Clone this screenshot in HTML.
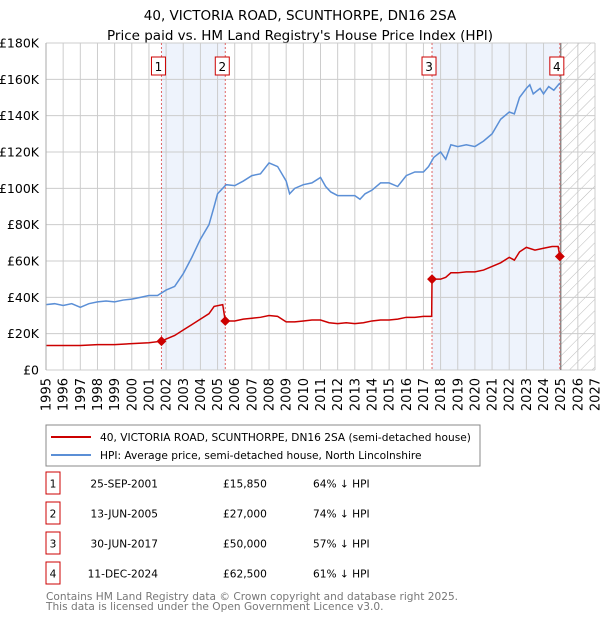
<!DOCTYPE html>
<html><head><meta charset="utf-8"><style>
body{margin:0;background:#fff;font-family:"DejaVu Sans","Liberation Sans",sans-serif;}
svg text{font-family:"DejaVu Sans","Liberation Sans",sans-serif;}
</style></head><body>
<svg id="c" width="600" height="620" xmlns="http://www.w3.org/2000/svg">
<defs><pattern id="hatch" width="8" height="8" patternUnits="userSpaceOnUse" patternTransform="rotate(45)"><line x1="0" y1="0" x2="0" y2="8" stroke="#bbb" stroke-width="1"/></pattern></defs>
<text x="300" y="20" text-anchor="middle" font-size="13.5">40, VICTORIA ROAD, SCUNTHORPE, DN16 2SA</text>
<text x="300" y="40" text-anchor="middle" font-size="13.5">Price paid vs. HM Land Registry's House Price Index (HPI)</text>
<g id="plot"></g>
<g>
<rect x="46" y="425" width="434" height="41" fill="#fff" stroke="#888"/>
<line x1="51" y1="437" x2="91" y2="437" stroke="#cc0000" stroke-width="2"/>
<text x="100" y="441" font-size="10.6">40, VICTORIA ROAD, SCUNTHORPE, DN16 2SA (semi-detached house)</text>
<line x1="51" y1="455" x2="91" y2="455" stroke="#5b8fd6" stroke-width="2"/>
<text x="100" y="459" font-size="10.6">HPI: Average price, semi-detached house, North Lincolnshire</text>
</g>
<g id="table"></g>
<text x="46" y="600" font-size="10.6" fill="#777">Contains HM Land Registry data © Crown copyright and database right 2025.</text>
<text x="46" y="610" font-size="10.6" fill="#777">This data is licensed under the Open Government Licence v3.0.</text>
</svg>
<script>
const hpiT=[1995,1995.5,1996,1996.5,1997,1997.5,1998,1998.5,1999,1999.5,2000,2000.5,2001,2001.5,2002,2002.5,2003,2003.5,2004,2004.5,2004.8,2005,2005.5,2006,2006.5,2007,2007.5,2008,2008.5,2009,2009.2,2009.5,2010,2010.5,2011,2011.3,2011.6,2012,2012.5,2013,2013.3,2013.6,2014,2014.5,2015,2015.5,2016,2016.5,2017,2017.3,2017.6,2018,2018.3,2018.6,2019,2019.5,2020,2020.5,2021,2021.5,2022,2022.3,2022.6,2023,2023.2,2023.4,2023.8,2024,2024.3,2024.6,2024.95];
const hpiV=[36,36.5,35.5,36.5,34.5,36.5,37.5,38,37.5,38.5,39,40,41,41,44,46,53,62,72,80,90,97,102,101.5,104,107,108,114,112,104,97,100,102,103,106,101,98,96,96,96,94,97,99,103,103,101,107,109,109,112,117,120,116,124,123,124,123,126,130,138,142,141,150,155,157,152,155,152,156,154,158];
const redT=[1995,1996,1997,1998,1999,2000,2001,2001.73,2002,2002.5,2003,2003.5,2004,2004.5,2004.8,2005.3,2005.45,2006,2006.5,2007,2007.5,2008,2008.5,2009,2009.5,2010,2010.5,2011,2011.5,2012,2012.5,2013,2013.5,2014,2014.5,2015,2015.5,2016,2016.5,2017,2017.48,2017.5,2018,2018.3,2018.6,2019,2019.5,2020,2020.5,2021,2021.5,2022,2022.3,2022.6,2023,2023.5,2024,2024.5,2024.85,2024.95];
const redV=[13.5,13.5,13.5,14,14,14.5,15,15.85,17,19,22,25,28,31,35,36,27,27,28,28.5,29,30,29.5,26.5,26.5,27,27.5,27.5,26,25.5,26,25.5,26,27,27.5,27.5,28,29,29,29.5,29.5,50,50,51,53.5,53.5,54,54,55,57,59,62,60.5,65,67.5,66,67,68,68,62.5];
const saleNum=["1","2","3","4"];
const saleT=[2001.73,2005.45,2017.5,2024.95];
const saleV=[15.85,27,50,62.5];
const saleDate=["25-SEP-2001","13-JUN-2005","30-JUN-2017","11-DEC-2024"];
const salePrice=["£15,850","£27,000","£50,000","£62,500"];
const saleHpi=["64% ↓ HPI","74% ↓ HPI","57% ↓ HPI","61% ↓ HPI"];
const yTicks=[0,20,40,60,80,100,120,140,160,180];
const yLabels=["£0","£20K","£40K","£60K","£80K","£100K","£120K","£140K","£160K","£180K"];
const X0=46,X1=595,Y0=370,Y1=43,T0=1995,T1=2027,V1=180;
const sx=t=>X0+(t-T0)/(T1-T0)*(X1-X0);
const sy=v=>Y0-v/V1*(Y0-Y1);
const NS="http://www.w3.org/2000/svg";
const g=document.getElementById('plot');
function mk(tag,attrs,parent){const e=document.createElementNS(NS,tag);for(const k in attrs)e.setAttribute(k,attrs[k]);(parent||g).appendChild(e);return e;}
for(let i=0;i<4;i+=2){const r=mk('rect',{x:sx(saleT[i]),y:Y1,width:sx(saleT[i+1])-sx(saleT[i]),height:Y0-Y1,fill:'#eef3fc'});

}
const h=mk('rect',{x:sx(2025),y:Y1,width:X1-sx(2025),height:Y0-Y1,fill:'url(#hatch)'});


for(let y=T0;y<=T1;y++){const l=mk('line',{x1:sx(y),x2:sx(y),y1:Y1,y2:Y0,stroke:'#ccc'});


const t=mk('text',{x:0,y:0,'font-size':13,'text-anchor':'end',transform:`translate(${sx(y)+4.5},${Y0+8}) rotate(-90)`});t.textContent=y;

}
yTicks.forEach((v,i)=>{const l=mk('line',{x1:X0,x2:X1,y1:sy(v),y2:sy(v),stroke:'#ccc'});


const t=mk('text',{x:X0-7,y:sy(v)+4.5,'font-size':12.5,'text-anchor':'end'});t.textContent=yLabels[i];

});
const vl=mk('line',{x1:sx(2025),x2:sx(2025),y1:Y1,y2:Y0,stroke:'#888','stroke-width':1.5});


saleT.forEach((t,i)=>{const l=mk('line',{x1:sx(t),x2:sx(t),y1:Y1,y2:Y0,stroke:'#e06666','stroke-dasharray':'2,2'});


const b=mk('rect',{x:sx(t)-10,y:57,width:14,height:18,fill:'#fff',stroke:'#cc0000'});


const tx=mk('text',{x:sx(t)-3,y:71,'font-size':12,'text-anchor':'middle'});tx.textContent=saleNum[i];

});
const hp=mk('polyline',{points:hpiT.map((t,i)=>sx(t)+','+sy(hpiV[i])).join(' '),fill:'none',stroke:'#5b8fd6','stroke-width':1.5});


const rp=mk('polyline',{points:redT.map((t,i)=>sx(t)+','+sy(redV[i])).join(' '),fill:'none',stroke:'#cc0000','stroke-width':1.5});


saleT.forEach((t,i)=>{const d=mk('rect',{x:-3.5,y:-3.5,width:7,height:7,fill:'#cc0000',transform:`translate(${sx(t)},${sy(saleV[i])}) rotate(45)`});

});
mk('line',{x1:X0,x2:X0,y1:Y1,y2:Y0,stroke:'#aaa'});
const tb=document.getElementById('table');
saleNum.forEach((n,i)=>{const cy=483+i*30;
const b=mk('rect',{x:46,y:cy-11,width:14,height:22,fill:'#fff',stroke:'#cc0000'},tb);


const cols=[[53,n,'middle'],[158,saleDate[i],'end'],[223,salePrice[i],'start'],[313,saleHpi[i],'start']];
cols.forEach(c=>{const t=mk('text',{x:c[0],y:cy+4.5,'font-size':10.6,'text-anchor':c[2]},tb);t.textContent=c[1];

});});
</script>
</body></html>
